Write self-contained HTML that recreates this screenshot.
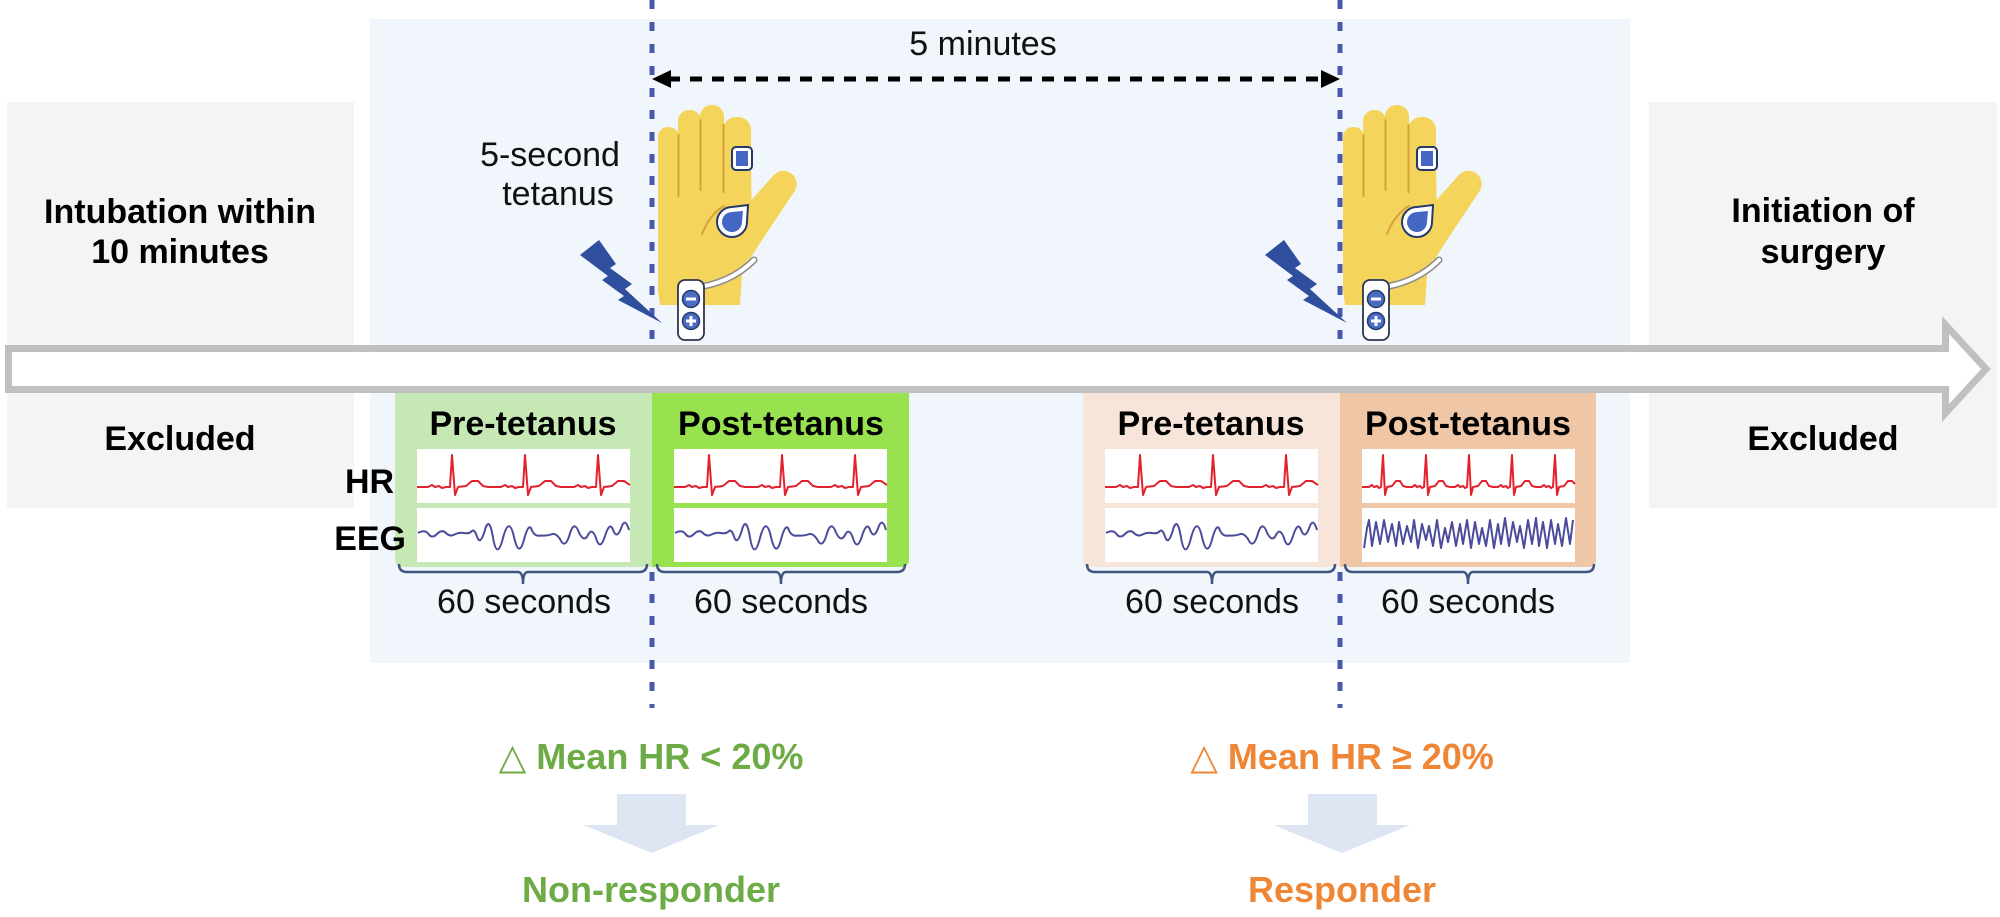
<!DOCTYPE html>
<html>
<head>
<meta charset="utf-8">
<style>
  html,body{margin:0;padding:0;background:#ffffff;}
  svg{display:block;}
  text{font-family:"Liberation Sans", Arial, sans-serif;}
</style>
</head>
<body>
<svg width="2000" height="917" viewBox="0 0 2000 917" xmlns="http://www.w3.org/2000/svg">
  <defs>
    <g id="hand">
      <polygon points="-72,255 -53,240 -36,264 -42,268 -20,284 -27,289 10,323 -34,300 -28,296 -50,280 -44,276" fill="#2f4f9e"/>
      <rect x="6" y="127" width="21" height="90" rx="10" fill="#f5d45c"/>
      <rect x="26" y="110" width="23" height="100" rx="11" fill="#f5d45c"/>
      <rect x="48" y="105" width="24" height="100" rx="11.5" fill="#f5d45c"/>
      <rect x="71" y="117" width="28" height="100" rx="13" fill="#f5d45c"/>
      <path d="M6,160 L99,160 L100,240 Q96,262 90,275 L88,305 L8,305 L6,290 Z" fill="#f5d45c"/>
      <path d="M95,205 L121,176 A13,13 0 0 1 142,192 L110,240 L96,262 Z" fill="#f5d45c"/>
      <path d="M26.5,135 L26.5,196 M48.5,120 L48.5,190 M71.5,125 L71.5,192 M50,234 Q58,214 72,206" stroke="#d6a23c" stroke-width="2" fill="none" stroke-linecap="round"/>
      <rect x="80" y="147" width="20" height="23" rx="4" fill="#ffffff" stroke="#233a6b" stroke-width="2"/>
      <rect x="84" y="151" width="12" height="15" fill="#4467c4"/>
      <path d="M96,205 L95,222 A15,15 0 1 1 80,207 Z" fill="#ffffff" stroke="#233a6b" stroke-width="2"/>
      <path d="M91,211 L90,222 A10,10 0 1 1 80,212 Z" fill="#4467c4"/>
      <path d="M40,288 Q78,284 102,260" stroke="#8c8c8c" stroke-width="7" fill="none" stroke-linecap="round"/>
      <path d="M40,288 Q78,284 102,260" stroke="#ffffff" stroke-width="4" fill="none" stroke-linecap="round"/>
      <rect x="26" y="280" width="26" height="60" rx="7" fill="#ffffff" stroke="#2e3550" stroke-width="1.8"/>
      <circle cx="39" cy="299" r="8.5" fill="#4a6cc2" stroke="#233a6b" stroke-width="1.5"/>
      <path d="M34,299 L44,299" stroke="#ffffff" stroke-width="3"/>
      <circle cx="39" cy="321" r="8.5" fill="#4a6cc2" stroke="#233a6b" stroke-width="1.5"/>
      <path d="M34,321 L44,321 M39,316 L39,326" stroke="#ffffff" stroke-width="3"/>
    </g>
    <polyline id="ecgslow" fill="none" stroke="#e3222d" stroke-width="2" stroke-linejoin="round"
      points="0,38 11,38 15,36 18,38 22,37 25,39 29,38 33,38 35,6 38,46 41,38 49,37 55,32 61,32 66,37 71,38 84,38 88,36 91,38 95,37 98,39 102,38 106,38 108,6 111,46 114,38 122,37 128,32 134,32 139,37 144,38 157,38 161,36 164,38 168,37 171,39 175,38 179,38 181,6 184,46 187,38 195,37 201,32 207,32 213,36"/>
    <polyline id="ecgfast" fill="none" stroke="#e3222d" stroke-width="2" stroke-linejoin="round"
      points="0,38 7,38 10,36 12,38 15,37 17,39 19,38 21,6 23,46 25,38 30,37 34,32 38,32 41,37 45,38 50,38 53,36 55,38 58,37 60,39 62,38 64,6 66,46 68,38 73,37 77,32 81,32 84,37 88,38 93,38 96,36 98,38 101,37 103,39 105,38 107,6 109,46 111,38 116,37 120,32 124,32 127,37 131,38 136,38 139,36 141,38 144,37 146,39 148,38 150,6 152,46 154,38 159,37 163,32 167,32 170,37 174,38 179,38 182,36 184,38 187,37 189,39 191,38 193,6 195,46 197,38 202,37 206,32 210,32 213,35"/>
    <path id="eegslow" fill="none" stroke="#4b4b9b" stroke-width="2" stroke-linejoin="round"
      d="M1,25 Q8,21 11.5,26 Q15,31 20,26 Q25,21 29,25 Q33,29 37.5,26.5 Q42,24 47,25 Q52,26 54.5,23.5 Q57,20 60,28.5 Q63,38 67.5,23.5 Q72,6 76,29.5 Q80,53 86,30 Q92,7 97,29 Q102,51 107,31.5 Q112,13 115,22.5 Q118,29 124,27.5 Q130,28 134,26.5 Q138,24 143,31 Q148,42 152.5,27 Q157,11 162,24.5 Q167,35 171,27 Q175,19 179,30 Q183,44 188,28 Q193,12 196.5,23 Q200,31 204,20.5 Q208,8 212,22"/>
    <polyline id="eegfast" fill="none" stroke="#4b4b9b" stroke-width="2" stroke-linejoin="round"
      points="2,40 5,20 7,12 10,38 14,14 18,36 22,12 26,34 30,16 34,38 37,14 41,36 45,18 49,34 52,12 56,40 60,16 64,32 67,18 71,38 75,12 79,40 83,20 86,34 90,14 94,38 98,16 101,36 105,12 109,40 113,14 117,36 120,20 124,38 128,12 132,40 136,16 139,36 143,10 147,38 151,14 155,34 158,18 162,40 166,12 170,36 174,10 177,38 181,14 185,40 189,12 193,36 196,16 200,38 204,10 208,36 211,12"/>
  </defs>

  <rect x="7" y="102" width="347" height="406" fill="#f4f4f4"/>
  <rect x="1649" y="102" width="348" height="406" fill="#f4f4f4"/>

  <rect x="370" y="19" width="1260" height="644" fill="#f0f6fc"/>

  <line x1="652" y1="0" x2="652" y2="708" stroke="#4858aa" stroke-width="5" stroke-dasharray="9 13"/>
  <line x1="1340" y1="0" x2="1340" y2="708" stroke="#4858aa" stroke-width="5" stroke-dasharray="9 13"/>

  <line x1="668" y1="79" x2="1324" y2="79" stroke="#000000" stroke-width="5" stroke-dasharray="12 10"/>
  <polygon points="652,79 671,70 671,88" fill="#000000"/>
  <polygon points="1340,79 1321,70 1321,88" fill="#000000"/>
  <text x="983" y="55" font-size="34" text-anchor="middle" fill="#111">5 minutes</text>

  <text x="550" y="166" font-size="34" text-anchor="middle" fill="#111">5-second</text>
  <text x="558" y="205" font-size="34" text-anchor="middle" fill="#111">tetanus</text>

  <use href="#hand" transform="translate(652,0)"/>
  <use href="#hand" transform="translate(1337,0)"/>

  <path d="M395,393 H652 V567 H403 Q395,567 395,559 Z" fill="#c6e8b5"/>
  <path d="M652,393 H909 V559 Q909,567 901,567 H652 Z" fill="#98e250"/>
  <path d="M1083,393 H1340 V567 H1091 Q1083,567 1083,559 Z" fill="#f6e5d8"/>
  <path d="M1340,393 H1596 V559 Q1596,567 1588,567 H1340 Z" fill="#efc6a6"/>

  <text x="523" y="435" font-size="34" font-weight="bold" text-anchor="middle" fill="#000">Pre-tetanus</text>
  <text x="781" y="435" font-size="34" font-weight="bold" text-anchor="middle" fill="#000">Post-tetanus</text>
  <text x="1211" y="435" font-size="34" font-weight="bold" text-anchor="middle" fill="#000">Pre-tetanus</text>
  <text x="1468" y="435" font-size="34" font-weight="bold" text-anchor="middle" fill="#000">Post-tetanus</text>

  <rect x="417" y="449" width="213" height="54" fill="#ffffff"/>
  <rect x="417" y="508" width="213" height="54" fill="#ffffff"/>
  <rect x="674" y="449" width="213" height="54" fill="#ffffff"/>
  <rect x="674" y="508" width="213" height="54" fill="#ffffff"/>
  <rect x="1105" y="449" width="213" height="54" fill="#ffffff"/>
  <rect x="1105" y="508" width="213" height="54" fill="#ffffff"/>
  <rect x="1362" y="449" width="213" height="54" fill="#ffffff"/>
  <rect x="1362" y="508" width="213" height="54" fill="#ffffff"/>

  <use href="#ecgslow" transform="translate(417,449)"/>
  <use href="#eegslow" transform="translate(417,508)"/>
  <use href="#ecgslow" transform="translate(674,449)"/>
  <use href="#eegslow" transform="translate(674,508)"/>
  <use href="#ecgslow" transform="translate(1105,449)"/>
  <use href="#eegslow" transform="translate(1105,508)"/>
  <use href="#ecgfast" transform="translate(1362,449)"/>
  <use href="#eegfast" transform="translate(1362,508)"/>

  <text x="345" y="493" font-size="34" font-weight="bold" fill="#000">HR</text>
  <text x="406" y="550" font-size="34" font-weight="bold" text-anchor="end" fill="#000">EEG</text>

  <g stroke="#3f5580" stroke-width="2.5" fill="none">
    <path d="M399,564 Q399,572 407,572 L518,572 Q523,572 523,584 Q523,572 528,572 L639,572 Q647,572 647,564"/>
    <path d="M657,564 Q657,572 665,572 L776,572 Q781,572 781,584 Q781,572 786,572 L897,572 Q905,572 905,564"/>
    <path d="M1087,564 Q1087,572 1095,572 L1207,572 Q1212,572 1212,584 Q1212,572 1217,572 L1327,572 Q1335,572 1335,564"/>
    <path d="M1345,564 Q1345,572 1353,572 L1463,572 Q1468,572 1468,584 Q1468,572 1473,572 L1586,572 Q1594,572 1594,564"/>
  </g>
  <text x="524" y="613" font-size="34" text-anchor="middle" fill="#111">60 seconds</text>
  <text x="781" y="613" font-size="34" text-anchor="middle" fill="#111">60 seconds</text>
  <text x="1212" y="613" font-size="34" text-anchor="middle" fill="#111">60 seconds</text>
  <text x="1468" y="613" font-size="34" text-anchor="middle" fill="#111">60 seconds</text>

  <path d="M8.5,348.5 L1945.5,348.5 L1945.5,325 L1986,369 L1945.5,413 L1945.5,389.5 L8.5,389.5 Z" fill="#ffffff" stroke="#c0c0c0" stroke-width="7" stroke-linejoin="miter"/>

  <text x="180" y="223" font-size="34" font-weight="bold" text-anchor="middle" fill="#000">Intubation within</text>
  <text x="180" y="263" font-size="34" font-weight="bold" text-anchor="middle" fill="#000">10 minutes</text>
  <text x="180" y="450" font-size="34" font-weight="bold" text-anchor="middle" fill="#000">Excluded</text>
  <text x="1823" y="222" font-size="34" font-weight="bold" text-anchor="middle" fill="#000">Initiation of</text>
  <text x="1823" y="263" font-size="34" font-weight="bold" text-anchor="middle" fill="#000">surgery</text>
  <text x="1823" y="450" font-size="34" font-weight="bold" text-anchor="middle" fill="#000">Excluded</text>

  <text x="651" y="769" font-size="36" font-weight="bold" text-anchor="middle" fill="#6cab45"><tspan font-family="'DejaVu Sans', sans-serif" font-weight="bold">△</tspan> Mean HR &lt; 20%</text>
  <polygon points="617,794 686,794 686,825 719,825 652,853 583,825 617,825" fill="#dde5f3"/>
  <text x="651" y="902" font-size="36" font-weight="bold" text-anchor="middle" fill="#6cab45">Non-responder</text>

  <text x="1342" y="769" font-size="36" font-weight="bold" text-anchor="middle" fill="#ee8636"><tspan font-family="'DejaVu Sans', sans-serif" font-weight="bold">△</tspan> Mean HR ≥ 20%</text>
  <polygon points="1308,794 1377,794 1377,825 1410,825 1342,853 1273,825 1308,825" fill="#dde5f3"/>
  <text x="1342" y="902" font-size="36" font-weight="bold" text-anchor="middle" fill="#ee8636">Responder</text>
</svg>
</body>
</html>
